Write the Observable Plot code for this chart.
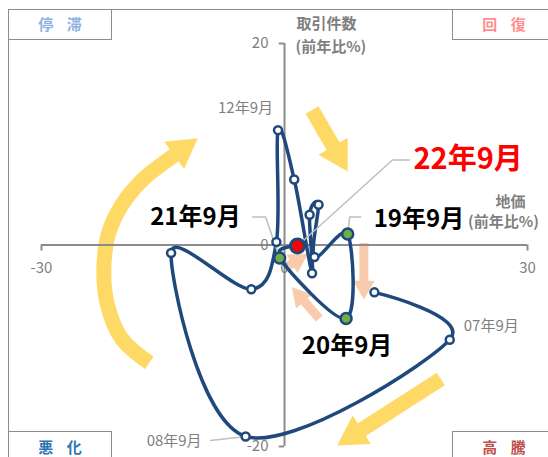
<!DOCTYPE html>
<html><head><meta charset="utf-8">
<script src="https://cdn.jsdelivr.net/npm/d3@7"></script>
<script src="https://cdn.jsdelivr.net/npm/@observablehq/plot@0.6"></script>
<style>
body{margin:0;background:#fff;font-family:"Noto Sans CJK JP","Noto Sans",sans-serif;}
#wrap{position:relative;width:548px;height:457px;overflow:hidden;background:#fff;}
#frame{position:absolute;left:8px;top:9px;width:600px;height:500px;border:1.5px solid #8c8c8c;box-sizing:border-box;}
.q{position:absolute;width:104px;height:31px;border:1.5px solid #8c8c8c;box-sizing:border-box;background:#fff;font-weight:bold;font-size:15px;text-align:center;line-height:28px;word-spacing:10px;}
.qb{height:40px;line-height:29px;}
#chart{position:absolute;left:0;top:0;}
</style></head>
<body>
<div id="wrap">
<div id="frame"></div>
<div class="q" style="left:8px;top:9px;color:#8db4e2">停 滞</div>
<div class="q" style="left:452px;top:9px;color:#ff8f8f">回 復</div>
<div class="q qb" style="left:8px;top:431px;color:#2e75b6">悪 化</div>
<div class="q qb" style="left:452px;top:431px;color:#c0504d">高 騰</div>
<div id="chart"></div>
</div>
<script>
// ---- data ----
const landPrice   = [11.1, 20.4, -4.8, -14.0, -4.1, -1.0, -0.8, 1.2, 3.4, 3.1, 4.2, 3.7, 7.8, 7.6, -0.6, 1.6]; // 地価 前年比%
const transactions= [-4.7, -9.4, -19.0, -0.8, -4.4, 0.3, 11.4, 6.5, -2.8, 3.0, 4.0, -1.2, 1.1, -7.3, -1.3, -0.1]; // 取引件数 前年比%
const pointLabels = ["", "07年9月", "08年9月", "", "", "", "12年9月", "", "", "", "", "", "19年9月", "20年9月", "21年9月", "22年9月"];
const xTicks = [-30, 0, 30];
const yTicks = [-20, 0, 20];
const yTitle = ["取引件数", "(前年比%)"];
const xTitle = ["地価", "(前年比%)"];
// decorative direction arrows (data units): path points then tip
const bigArrows = [
  {path: [[-16.7,-11.7],[-20.1,-9.3],[-21.9,-5.8],[-22.3,-2.3],[-21.7,1.2],[-19.9,4.2],[-17.5,6.5],[-15.0,8.1]], tip: [-10.7,10.6]},
  {path: [[3.4,13.4]], tip: [7.8,7.3]},
  {path: [[19.3,-13.3]], tip: [6.5,-19.9]}
];
const smallArrows = [
  {path: [[9.8,0.2]], tip: [9.8,-5.4]},
  {path: [[4.3,-7.3]], tip: [0.9,-4.2]},
  {path: [[0.4,-2.1]], tip: [2.9,-0.9]}
];

// ---- layout ----
const W = 548, H = 457, mL = 41, mR = 21, mT = 43, mB = 11;
const kx = (W - mL - mR) / 60, ky = (H - mT - mB) / 40;

const pts = landPrice.map((x, i) => ({x, y: transactions[i], label: pointLabels[i], i}));
const n = pts.length;

function buildArrows(list, r, prefix) {
  const lines = [], heads = [];
  list.forEach((a, k) => {
    const last = a.path[a.path.length - 1], tip = a.tip;
    const dxp = (tip[0] - last[0]) * kx, dyp = -(tip[1] - last[1]) * ky;
    const L = Math.hypot(dxp, dyp), ux = dxp / L, uy = dyp / L;
    const back = d => [tip[0] - d * ux / kx, tip[1] + d * uy / ky];
    const id = prefix + k;
    a.path.forEach(p => lines.push({id, x: p[0], y: p[1]}));
    const se = back(2.0 * r);
    lines.push({id, x: se[0], y: se[1]});
    const c = back(1.555 * r);
    heads.push({x: c[0], y: c[1], angle: Math.atan2(ux, -uy) * 180 / Math.PI});
  });
  return {lines, heads};
}
const big = buildArrows(bigArrows, 12.5, "b");
const small = buildArrows(smallArrows, 8, "s");

// leader lines: pixel offsets from the labelled point
const leaderOffsets = {
  "22年9月": [[0,0],[95,-86],[112,-86]],
  "21年9月": [[0,0],[-14,-41],[-27,-41]],
  "19年9月": [[0,0],[2,-17],[13,-17]],
  "08年9月": [[0,0],[-35,4]]
};
const leaders = [];
pts.forEach(p => {
  const off = leaderOffsets[p.label];
  if (off) off.forEach(o => leaders.push({id: p.label, x: p.x + o[0] / kx, y: p.y - o[1] / ky}));
});

const navy = "#1f497d";
const font = '"Noto Sans CJK JP", "Noto Sans", sans-serif';
const byLabel = l => pts.filter(p => p.label === l);

const chart = Plot.plot({
  width: W, height: H,
  marginLeft: mL, marginRight: mR, marginTop: mT, marginBottom: mB,
  x: {domain: [-30, 30], axis: null},
  y: {domain: [-20, 20], axis: null},
  style: {background: "transparent", fontFamily: font, overflow: "visible"},
  marks: [
    // arrows
    Plot.line(big.lines, {x: "x", y: "y", z: "id", curve: "catmull-rom", stroke: "#ffd966", strokeWidth: 15, strokeLinecap: "butt"}),
    Plot.dot(big.heads, {x: "x", y: "y", symbol: "triangle", r: 12.5, rotate: "angle", fill: "#ffd966", stroke: "none"}),
    Plot.line(small.lines, {x: "x", y: "y", z: "id", stroke: "#f8cbad", strokeWidth: 9, strokeLinecap: "butt"}),
    Plot.dot(small.heads, {x: "x", y: "y", symbol: "triangle", r: 8, rotate: "angle", fill: "#f8cbad", stroke: "none"}),
    // axes
    Plot.ruleY([0], {stroke: "#8c8c8c", strokeWidth: 2}),
    Plot.ruleX([0], {stroke: "#8c8c8c", strokeWidth: 2}),
    Plot.ruleX([-30, 30], {y1: 0, y2: -0.6, stroke: "#8c8c8c", strokeWidth: 2}),
    Plot.ruleY([-20, 20], {x1: -0.65, x2: 0, stroke: "#8c8c8c", strokeWidth: 2}),
    Plot.text(xTicks, {x: d => d, y: 0, dy: 23, text: d => String(d), fill: "#808080", fontSize: 15}),
    Plot.text(yTicks, {x: 0, y: d => d, dx: -16, text: d => String(d), textAnchor: "end", fill: "#808080", fontSize: 15}),
    Plot.text([yTitle[0]], {x: 0, y: 20, dx: 12, dy: -19, text: d => d, textAnchor: "start", fill: "#7f7f7f", fontSize: 15, fontWeight: "bold"}),
    Plot.text([yTitle[1]], {x: 0, y: 20, dx: 11, dy: 4, text: d => d, textAnchor: "start", fill: "#7f7f7f", fontSize: 15, fontWeight: "bold"}),
    Plot.text([xTitle[0]], {x: 30, y: 0, dx: -17, dy: -43, text: d => d, fill: "#7f7f7f", fontSize: 15, fontWeight: "bold"}),
    Plot.text([xTitle[1]], {x: 30, y: 0, dx: -24, dy: -23, text: d => d, fill: "#7f7f7f", fontSize: 15, fontWeight: "bold"}),
    // the cycle curve
    Plot.line(pts, {x: "x", y: "y", curve: "cardinal", stroke: navy, strokeWidth: 3.5, strokeLinejoin: "round"}),
    // leaders
    Plot.line(leaders, {x: "x", y: "y", z: "id", stroke: "#bfbfbf", strokeWidth: 1.5}),
    // points
    Plot.dot(pts.filter(p => p.i < n - 4), {x: "x", y: "y", r: 4, fill: "white", stroke: navy, strokeWidth: 2.5}),
    Plot.dot(pts.filter(p => p.i >= n - 4 && p.i < n - 1), {x: "x", y: "y", r: 5.5, fill: "#70ad47", stroke: navy, strokeWidth: 2.5}),
    Plot.dot(pts.filter(p => p.i === n - 1), {x: "x", y: "y", r: 7, fill: "#ff0000", stroke: navy, strokeWidth: 3}),
    // labels
    Plot.text(byLabel("12年9月"), {x: "x", y: "y", text: "label", dx: -5, dy: -22, textAnchor: "end", fill: "#7f7f7f", fontSize: 15}),
    Plot.text(byLabel("07年9月"), {x: "x", y: "y", text: "label", dx: 14, dy: -14, textAnchor: "start", fill: "#7f7f7f", fontSize: 15}),
    Plot.text(byLabel("08年9月"), {x: "x", y: "y", text: "label", dx: -44, dy: 5, textAnchor: "end", fill: "#7f7f7f", fontSize: 15}),
    Plot.text(byLabel("19年9月"), {x: "x", y: "y", text: "label", dx: 26, dy: -15, textAnchor: "start", fill: "#000", fontSize: 24, fontWeight: "bold"}),
    Plot.text(byLabel("21年9月"), {x: "x", y: "y", text: "label", dx: -39, dy: -41, textAnchor: "end", fill: "#000", fontSize: 24, fontWeight: "bold"}),
    Plot.text(byLabel("20年9月"), {x: "x", y: "y", text: "label", dx: 1, dy: 28, textAnchor: "middle", fill: "#000", fontSize: 24, fontWeight: "bold"}),
    Plot.text(byLabel("22年9月"), {x: "x", y: "y", text: "label", dx: 116, dy: -86, textAnchor: "start", fill: "#ff0000", fontSize: 29, fontWeight: "bold"})
  ]
});
document.getElementById("chart").appendChild(chart);
</script>
</body></html>
